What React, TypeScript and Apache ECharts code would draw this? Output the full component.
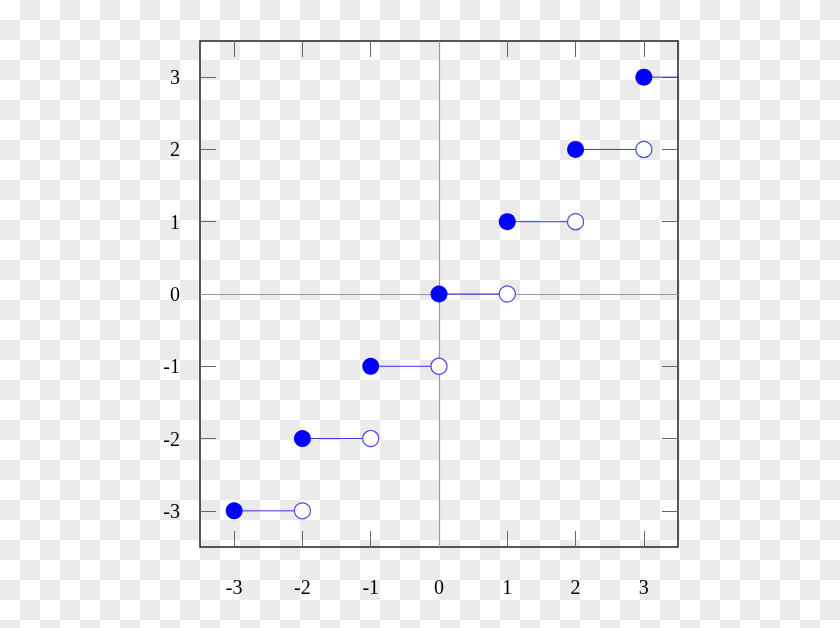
import React, { useEffect, useRef } from "react";
import * as echarts from "echarts";

// floor function: value k on [k, k+1)
const stepStarts = [-3, -2, -1, 0, 1, 2, 3];
const stepEnds = [-2, -1, 0, 1, 2, 3, 4];
const stepValues = [-3, -2, -1, 0, 1, 2, 3];
const tickValues = [-3, -2, -1, 0, 1, 2, 3];
const axisMin = -3.5;
const axisMax = 3.5;

const FONT = "'Liberation Serif', 'DejaVu Serif', serif";
const TICK_COLOR = "#666";

export default function App() {
  const ref = useRef<HTMLDivElement>(null);
  useEffect(() => {
    if (!ref.current) return;
    const chart = echarts.init(ref.current, undefined, { renderer: "svg" });

    const filled = stepStarts.map((x, i) => [x, stepValues[i]]);
    const open = stepEnds
      .map((x, i) => [x, stepValues[i]])
      .filter((p) => p[0] <= axisMax);

    const makeAxis = (pos: string, showLabel: boolean, margin: number) => ({
      type: "value",
      position: pos,
      min: axisMin,
      max: axisMax,
      axisLine: { show: false, onZero: false },
      splitLine: { show: false },
      axisTick: {
        show: true,
        inside: true,
        length: 16,
        customValues: tickValues,
        lineStyle: { color: TICK_COLOR, width: 1 },
      },
      axisLabel: {
        show: showLabel,
        customValues: tickValues,
        margin,
        fontFamily: FONT,
        fontSize: 20,
        color: "#000",
      },
    });

    const segSeries = stepStarts.map((x, i) => ({
      type: "line",
      xAxisIndex: 0,
      yAxisIndex: 0,
      data: [
        [x, stepValues[i]],
        [stepEnds[i], stepValues[i]],
      ],
      showSymbol: false,
      symbol: "none",
      lineStyle: { color: "#3434e0", width: 1 },
      clip: true,
      silent: true,
      z: 3,
    }));

    chart.setOption({
      animation: false,
      backgroundColor: "transparent",
      grid: {
        left: 200,
        top: 41,
        width: 478,
        height: 506,
        containLabel: false,
        show: true,
        borderColor: "#222",
        borderWidth: 1.5,
        backgroundColor: "transparent",
      },
      xAxis: [makeAxis("bottom", true, 30), makeAxis("top", false, 8)],
      yAxis: [makeAxis("left", true, 20), makeAxis("right", false, 8)],
      series: [
        {
          type: "line",
          data: [],
          silent: true,
          z: 1,
          markLine: {
            silent: true,
            z: 1,
            symbol: "none",
            label: { show: false },
            lineStyle: { color: "#9a9a9a", width: 1.2, type: "solid" },
            data: [{ xAxis: 0 }, { yAxis: 0 }],
          },
        },
        ...segSeries,
        {
          type: "scatter",
          data: open,
          symbol: "circle",
          symbolSize: 16,
          itemStyle: { color: "#ffffff", borderColor: "#4a4ad8", borderWidth: 1.2, opacity: 1 },
          silent: true,
          z: 4,
        },
        {
          type: "scatter",
          data: filled,
          symbol: "circle",
          symbolSize: 17,
          itemStyle: { color: "#0000ff", opacity: 1 },
          silent: true,
          z: 5,
        },
      ],
    });
    return () => chart.dispose();
  }, []);

  return (
    <div
      style={{
        position: "fixed",
        left: 0,
        top: 0,
        width: 840,
        height: 628,
        background:
          "repeating-conic-gradient(#ebebeb 0 25%, #ffffff 0 50%) 0 0 / 40px 40px",
      }}
    >
      <div ref={ref} style={{ width: 840, height: 628 }} />
    </div>
  );
}
